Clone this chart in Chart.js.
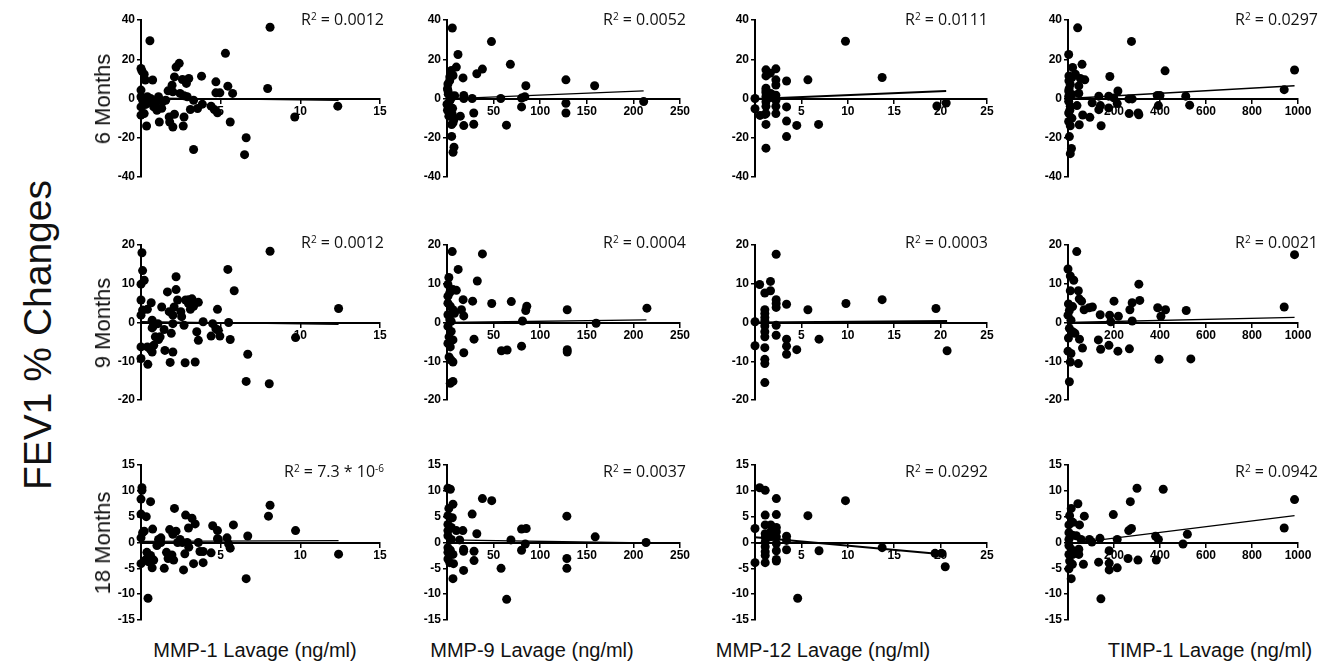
<!DOCTYPE html>
<html>
<head>
<meta charset="utf-8">
<script src="https://cdn.jsdelivr.net/npm/chart.js@4/dist/chart.umd.min.js"></script>
<style>
body{margin:0;background:#fff;width:1334px;height:670px;position:relative;overflow:hidden;font-family:Arial,"Liberation Sans",sans-serif;color:#111;}
canvas{position:absolute;}
.lbl{position:absolute;white-space:nowrap;}
.rot{transform:translate(-50%,-50%) rotate(-90deg);}
.rsq{position:absolute;width:150px;text-align:right;font-family:"Open Sans",sans-serif;font-size:16px;line-height:20px;white-space:nowrap;}
.rsq sup{font-size:10px;vertical-align:top;position:relative;top:-3px;}
</style>
</head>
<body>
<script>
// labels
var rowLabels = ['6 Months', '9 Months', '18 Months'];
var xTitles = ['MMP-1 Lavage (ng/ml)', 'MMP-9 Lavage (ng/ml)', 'MMP-12 Lavage (ng/ml)', 'TIMP-1 Lavage (ng/ml)'];
var yTitle = 'FEV1 % Changes';

// axis ranges
var xMax = [15, 250, 25, 1000];
var xStep = [5, 50, 5, 200];
var yMax = [40, 20, 15];
var yStep = [20, 10, 5];

// R squared per row / column
var rSquared = [
    ['0.0012', '0.0052', '0.0111', '0.0297'],
    ['0.0012', '0.0004', '0.0003', '0.0021'],
    ['7.3 * 10^-6', '0.0037', '0.0292', '0.0942']
];

// 6 months
var mmp1_6mo = [[0.56,29.4],[0,15.3],[0.06,14],[0.2,12.4],[0.27,9.4],[0.73,9.4],[0,4.3],[0,0.9],[0.1,-0.9],[0,-4.3],[0,-8.5],[0.2,-7.7],[0.35,-14],[0.4,0.9],[0.6,0],[0.7,-0.9],[0.8,-4.3],[1.0,-6],[1.15,-12],[1.1,0.9],[1.35,-1.7],[1.55,-0.9],[1.7,3.9],[1.77,-9.4],[1.8,-12],[2.0,-14.5],[1.95,6.8],[2.0,3.4],[2.1,11],[2.1,-8],[2.2,16],[2.4,17.9],[2.45,2.6],[2.6,9.7],[2.7,1.4],[2.7,-9.4],[2.65,-14],[2.85,7.7],[3.0,10.2],[2.9,0.9],[3.1,-5.6],[3.3,-26],[3.3,-0.9],[3.55,-5.1],[3.8,11.4],[3.85,-2.9],[4.4,-3.9],[4.6,-5.6],[4.7,8.5],[4.7,2.9],[4.95,2.9],[4.8,-7.3],[5.3,23],[5.45,6.3],[5.6,-12],[5.75,2.6],[6.6,-20],[6.5,-28.6],[8.1,36.3],[7.95,5.1],[9.65,-9.4],[12.35,-3.9],[0.3,-3],[0.5,-2],[0.9,-2.5],[1.3,-5]];
var mmp9_6mo = [[5.7,35.9],[47.7,29],[11.8,22.4],[10,16],[4.7,14.3],[6.5,11.7],[2.9,9.1],[1,7.4],[17.2,10.5],[32,12.6],[38,15],[68,17.4],[84.6,6.5],[127.6,9.5],[158.4,6.5],[1,4],[4.7,1.4],[2.9,-1.2],[8.2,1.4],[18,1.5],[18,0],[27,0],[57.7,0],[83.5,0.9],[80,0.2],[80,-4.3],[127.6,-2.4],[127.6,-7.4],[211,-1.5],[0,-2.9],[2.2,-4.7],[2.9,-6.4],[5.7,-8.1],[7.5,-10.7],[6.5,-12.4],[14.3,-9],[18,-13.8],[28.7,-7.4],[28.7,-13.1],[63.8,-13.6],[5,-19.3],[7.5,-24.8],[6.5,-27.4],[1.4,2.2],[4,-0.3],[1,-3.8],[5,-13.3],[0.5,5],[3,11],[0.5,-6],[2,-9],[6,-5]];
var mmp12_6mo = [[0,-5.2],[0.54,-8.6],[1.07,-8.1],[1.18,14.6],[1.18,11.5],[1.64,12.9],[2.25,15.1],[1.18,5.2],[1.18,2.9],[1.18,0.9],[1.18,-1.7],[1.18,-4],[1.18,-7.7],[1.18,-13.2],[1.18,-25.3],[1.7,2.6],[2.25,9.5],[2.25,6.9],[2.25,1.7],[2.25,-0.9],[2.25,-4],[2.25,-7.7],[3.4,8.9],[3.4,-4.3],[3.4,-11.5],[3.4,-19.4],[4.5,-13.7],[5.7,9.5],[6.85,-13.2],[9.75,29.2],[13.7,10.7],[19.6,-3.8],[20.6,-2.3],[0,0],[1.18,3.9],[1.7,0.5]];
var timp1_6mo = [[42,36],[3,22.4],[20,15.8],[61,17.4],[73,9.5],[54,10.2],[32,12.4],[17,10.7],[10,7.2],[47,6.4],[3,3.8],[17,2.1],[47,2.6],[3,-1.4],[10,-4],[39,-3.6],[3,-7.4],[17,-10],[3,-11.7],[10,-13.9],[49,-13.4],[64,-8.4],[95,-9.6],[105,-2.2],[134,1.2],[141,-3.6],[134,-5.7],[144,-13.9],[182,11.2],[177,1.2],[199,0.3],[217,3.8],[214,-2.6],[177,-4.8],[265,-0.2],[279,-0.2],[276,29.1],[266,-7.7],[308,-8.3],[305,-7.4],[388,1.5],[400,1.5],[393,-3.6],[422,14.1],[512,1.2],[529,-3.4],[4,11.5],[4,9],[6,-19.4],[15,-25.5],[10,-28.1],[3,1],[8,-6],[5,5],[940,4.5],[985,14.5]];

// 9 months
var mmp1_9mo = [[0.06,18],[0.1,13.4],[0.2,10.9],[0,9.9],[0,5.8],[0.1,3.2],[0.4,3.4],[0,1.9],[0.64,5.1],[0.7,0.6],[0.77,-0.9],[0.7,-1.4],[0,-6.3],[0.4,-6.3],[0,-9.3],[0.43,-10.8],[0.6,-7],[0.7,-7.6],[0.8,-5.9],[0.9,-3.7],[1.06,-0.3],[1.1,-4.4],[1.2,-3.7],[1.3,4],[1.45,-1.8],[1.5,-7.2],[1.66,7.9],[1.77,2.8],[1.9,-2.8],[1.83,-10.3],[2.0,1.9],[2.0,-0.3],[2.0,-7.6],[2.08,4],[2.2,11.8],[2.2,8.5],[2.3,5.8],[2.5,2.8],[2.55,1.5],[2.7,-0.7],[2.77,-10.4],[2.8,5.8],[2.98,4.9],[3.0,5.9],[3.1,3.4],[3.2,6.1],[3.3,4.2],[3.4,-10.2],[3.5,-2.4],[3.6,-4.6],[3.6,5.2],[3.9,0.2],[4.4,-3.5],[4.5,-0.3],[4.7,-1.6],[4.8,3.4],[4.85,-2],[4.95,-3.5],[5.45,13.7],[5.5,0],[5.6,-4.4],[5.85,8.2],[6.7,-8.2],[6.6,-15.2],[8.1,18.4],[8.05,-15.8],[9.7,-3.9],[12.4,3.6]];
var mmp9_9mo = [[5.6,18.3],[38,17.7],[12,13.7],[2,11.6],[1,9.8],[32.5,10.7],[6.4,8.5],[10,8.3],[3,7.7],[17.3,5.9],[27.5,5.5],[48,4.9],[69,5.4],[85.6,4.2],[84.5,3.1],[129,3.3],[214.5,3.7],[1,5],[3.5,4.2],[6.4,3.3],[15.5,3.3],[18,1.7],[1,2],[8,2.4],[3,0.7],[81,0.4],[160,-0.2],[1,-1],[4.5,-2.3],[2.2,-3.7],[6.4,-4.5],[29,-4.3],[18,-7.8],[1,-5.4],[3.5,-6.3],[2.2,-8.9],[6.4,-10.2],[4.5,-9.7],[58.4,-7.3],[64.5,-7.1],[80,-6.1],[129,-7],[129,-7.6],[3.5,-15.7],[6.4,-15.2],[1,6.8],[4.5,0.3]];
var mmp12_9mo = [[0.5,9.8],[0,0.2],[0,-6],[1.06,7.6],[1.06,3.3],[1.06,2.3],[1.06,1.3],[1.06,0.4],[1.06,-0.9],[1.06,-2.4],[1.06,-3.7],[1.06,-6.5],[1.06,-9.5],[1.06,-10.6],[1.06,-15.5],[1.67,10.6],[1.67,8.2],[2.28,17.6],[2.28,5.9],[2.28,4.9],[2.28,3.9],[2.28,-0.7],[2.28,-3.3],[3.4,4.7],[3.4,-4.3],[3.4,-6.1],[3.4,-8.2],[4.5,-7],[5.7,3.3],[6.9,-4.3],[9.8,4.9],[13.7,5.9],[19.5,3.6],[20.7,-7.3]];
var timp1_9mo = [[0,13.8],[38,18.3],[10,12],[25,10.9],[10,8.2],[45,8.2],[49,6.1],[59,5.5],[2,4.8],[20,4.1],[6,3.1],[70,3.3],[92,3.8],[106,4],[0,1.9],[13,0.6],[140,2],[181,1.9],[186,0.2],[219,1.6],[200,5.5],[269,3.3],[279,5.1],[308,9.9],[312,5.7],[279,0.4],[390,3.8],[404,1.6],[424,3.3],[514,3.1],[6,-1.5],[20,-2.4],[30,-2.8],[2,-4],[50,-4.3],[0,-7.4],[13,-8],[63,-6.6],[10,-10.2],[45,-10.6],[6,-15.3],[132,-4.5],[142,-6.9],[178,-5.9],[217,-7.4],[267,-6.8],[396,-9.5],[534,-9.4],[940,4],[985,17.5]];

// 18 months
var mmp1_18mo = [[0.06,10.6],[0.06,10.1],[0,8.4],[0.6,7.9],[0,5.5],[0.33,5],[0.1,1.9],[0.2,2.2],[0,0.9],[0,-4.1],[0.27,-3.4],[0.37,-1.9],[0.48,-3.75],[0.6,-2.5],[0.73,2.6],[0.7,-4.9],[0.8,-3.4],[0.44,-10.8],[1.0,-0.6],[1.1,0.6],[1.25,0.9],[1.25,0],[1.46,-5],[1.6,-1.9],[1.7,-3.1],[1.8,2.5],[1.94,-2.4],[2.0,1.6],[2.05,-3.4],[2.1,6.6],[2.2,2.2],[2.3,0],[2.45,0.6],[2.6,0],[2.67,-5.3],[2.75,-2.2],[2.8,5.3],[2.9,0],[2.98,2.8],[3.0,-0.9],[3.2,4.7],[3.3,-4.1],[3.4,3.6],[3.6,0],[3.7,-1.75],[3.9,-3.9],[3.9,-1.75],[4.4,-2],[4.5,3.25],[4.8,2.3],[4.8,0.75],[4.85,0.6],[5.4,0.9],[5.5,-0.3],[5.6,-1.1],[5.8,3.4],[6.7,1.25],[6.6,-7],[8.0,5.1],[8.1,7.2],[9.7,2.3],[12.4,-2.25]];
var mmp9_18mo = [[1,10.5],[3.6,10.3],[2,6.6],[6.4,7.4],[1,5.2],[5.7,4.8],[1,3.5],[4.6,2.9],[1,2.3],[10,2.3],[17,2.3],[1,1.3],[4.6,0.6],[13.6,0.5],[1,-1],[3.6,-1.5],[1,-1.9],[6.4,-2.3],[1,-3.2],[3,-3.9],[7,-4.1],[6.4,-7],[17.8,-1.3],[17.8,-1.7],[17.8,-5.4],[27,5.5],[32,1.7],[29,-1.7],[29,-3.5],[38,8.5],[48,8.1],[58,-5],[64,-11],[68.6,0.5],[80,2.6],[85,2.7],[80,-1.5],[84,-0.3],[128.6,5.1],[128.6,-3.1],[128.6,-5],[159,1.1],[213.6,0]];
var mmp12_18mo = [[0,2.7],[0,-3.9],[0.5,10.6],[1.1,10.1],[1.1,5.3],[1.1,3.4],[1.1,1.7],[1.1,1],[1.1,0.1],[1.1,-0.8],[1.1,-1.8],[1.1,-2.5],[1.1,-3.9],[1.7,3.4],[1.7,2.1],[1.7,1.1],[2.3,8.5],[2.3,5.4],[2.3,2.9],[2.3,2.1],[2.3,1.1],[2.3,-0.2],[2.3,-1.6],[2.3,-3.3],[2.3,-3.6],[3.4,1.2],[3.4,-1.4],[3.4,0.4],[4.6,-10.8],[5.7,5.2],[6.9,-1.6],[9.75,8.1],[13.7,-1],[19.4,-2.1],[20.1,-2.1],[20.5,-4.7]];
var timp1_18mo = [[14,6.6],[43,7.5],[7,5.2],[71,5.1],[4,3.4],[21,3.9],[50,3.4],[4,1.9],[19,1.4],[36,1.3],[4,0.6],[57,0.6],[93,0.6],[104,0.1],[139,0.8],[4,-0.6],[14,-1.3],[47,-1.3],[4,-2.3],[21,-2.3],[47,-2.3],[7,-3.6],[19,-4.2],[67,-4.2],[4,-5.1],[14,-7],[133,-3.8],[179,-1.6],[179,-4],[179,-5.3],[197,5.4],[214,0.6],[214,-4.9],[143,-10.9],[261,-3.1],[264,2.3],[276,2.7],[271,7.9],[300,10.5],[304,-3.4],[381,1.2],[393,0.6],[384,-3.4],[414,10.3],[500,-0.3],[519,1.6],[940,2.8],[985,8.3]];

// regression lines, [start, end]
var fits = [
    [[[0,0.3],[12.4,-1]], [[0,-0.2],[211,3.9]], [[0,-0.3],[20.6,3.8]], [[0,0],[985,6.5]]],
    [[[0,0.2],[12.4,-0.5]], [[0,0],[214,0.7]], [[0,0],[20.7,0.4]], [[0,0],[985,1.3]]],
    [[[0,0.2],[12.4,0.35]], [[0,0.5],[213.6,-0.1]], [[0,1],[20.5,-2.3]], [[0,-0.25],[985,5.2]]]
];

var panels = [
    [mmp1_6mo, mmp9_6mo, mmp12_6mo, timp1_6mo],
    [mmp1_9mo, mmp9_9mo, mmp12_9mo, timp1_9mo],
    [mmp1_18mo, mmp9_18mo, mmp12_18mo, timp1_18mo]
];

// layout in px
var axisX = [141, 447, 755, 1068];
var plotW = [239, 233, 232, 230];
var plotTop = [20, 245, 465];
var plotH = [157, 155, 155];
var rRight = [384, 686, 988, 1318];
var rMid = [19, 242, 471];
var xTitleX = [255, 532, 823, 1210];
var fitWidth = [1.3, 1.3, 2, 1.3];

var tickFont = {family: 'Arial, "Liberation Sans"', size: 12, weight: 'bold'};

function addLabel(text, cls, css) {
    var d = document.createElement('div');
    d.className = cls;
    d.innerHTML = text;
    for (var k in css) d.style[k] = css[k];
    document.body.appendChild(d);
}

for (var r = 0; r < 3; r++) {
    for (var c = 0; c < 4; c++) {
        var cv = document.createElement('canvas');
        cv.width = 40 + plotW[c] + 26;
        cv.height = plotH[r] + 24;
        cv.style.left = (axisX[c] - 40) + 'px';
        cv.style.top = (plotTop[r] - 12) + 'px';
        document.body.appendChild(cv);

        new Chart(cv, {
            type: 'scatter',
            data: {
                datasets: [{
                    data: panels[r][c].map(function (p) { return {x: p[0], y: p[1]}; }),
                    backgroundColor: '#000',
                    borderWidth: 0,
                    pointRadius: 4.5,
                    clip: false,
                    order: 2
                }, {
                    data: fits[r][c].map(function (p) { return {x: p[0], y: p[1]}; }),
                    showLine: true,
                    borderColor: '#000',
                    borderWidth: fitWidth[c],
                    pointRadius: 0,
                    clip: false,
                    order: 1
                }]
            },
            options: {
                responsive: false,
                animation: false,
                devicePixelRatio: 1,
                layout: {padding: {top: 12, bottom: 12, left: 0, right: 26}},
                plugins: {legend: {display: false}, tooltip: {enabled: false}},
                scales: {
                    x: {
                        type: 'linear',
                        position: {y: 0},
                        min: 0,
                        max: xMax[c],
                        afterFit: function (s) { s.height = 0; },
                        border: {color: '#000', width: 2},
                        grid: {drawOnChartArea: false, drawTicks: true, tickLength: 4, color: '#000', lineWidth: 1.5},
                        ticks: {
                            stepSize: xStep[c], autoSkip: false, maxRotation: 0, padding: 2,
                            color: '#000', font: tickFont,
                            callback: function (v) { return v === 0 ? '' : v; }
                        }
                    },
                    y: {
                        min: -yMax[r],
                        max: yMax[r],
                        afterFit: function (s) { s.width = 40; },
                        border: {color: '#000', width: 2},
                        grid: {drawOnChartArea: false, drawTicks: true, tickLength: 4, color: '#000', lineWidth: 1.5},
                        ticks: {stepSize: yStep[r], padding: 2, color: '#000', font: tickFont}
                    }
                }
            }
        });

        addLabel('R<sup>2</sup> = ' + rSquared[r][c].replace(/\^(\S+)/, '<sup>$1</sup>'), 'rsq',
            {left: (rRight[c] - 150) + 'px', top: (rMid[r] - 10) + 'px'});
    }
    addLabel(rowLabels[r], 'lbl rot',
        {left: '103px', top: (plotTop[r] + plotH[r] / 2) + 'px', fontSize: '22px'});
}

for (var i = 0; i < 4; i++) {
    addLabel(xTitles[i], 'lbl', {left: xTitleX[i] + 'px', top: '650px', fontSize: '20px', transform: 'translate(-50%,-50%)'});
}
addLabel(yTitle, 'lbl rot', {left: '38px', top: '335px', fontSize: '39px'});
</script>
</body>
</html>
